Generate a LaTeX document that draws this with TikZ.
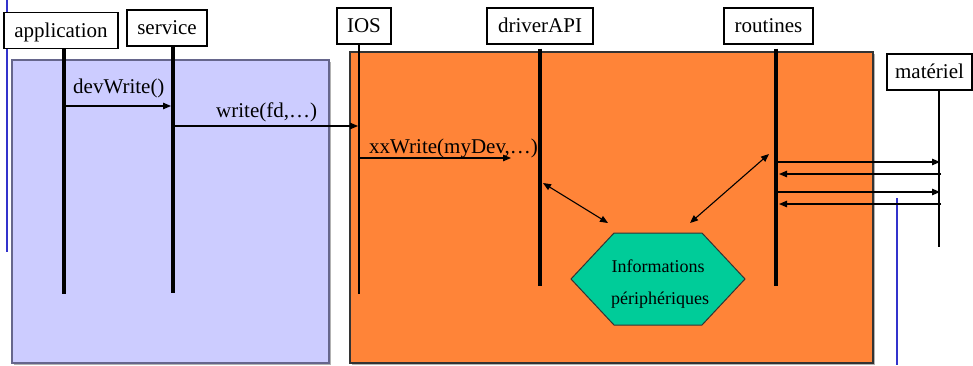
\documentclass[tikz,border=0pt]{standalone}
\usepackage{fontspec}
\setmainfont{Liberation Serif}
\usetikzlibrary{arrows.meta}
\definecolor{lavender}{HTML}{CCCCFF}
\definecolor{orangezone}{HTML}{FF8438}
\definecolor{tealfill}{HTML}{00CC99}
\definecolor{markblue}{HTML}{3333CC}
\begin{document}
\begin{tikzpicture}[x=1pt,y=-1pt,
  actor/.style={draw=black, line width=1.2pt, fill=white,
    font=\fontsize{21}{25}\selectfont, text height=17.5pt, text depth=4.5pt,
    inner ysep=7pt, inner xsep=0pt, align=center},
  msglabel/.style={font=\fontsize{21}{25}\selectfont, inner sep=0pt, anchor=base west},
  infolabel/.style={font=\fontsize{18}{22}\selectfont, inner sep=0pt, anchor=base},
  heavyline/.style={line width=4.5pt},
  lightline/.style={line width=2pt},
  msg/.style={line width=1.1pt, -{Triangle[length=8pt,width=6.5pt]}},
  twoway/.style={line width=1.1pt, {Triangle[length=8pt,width=6.5pt]}-{Triangle[length=8pt,width=6.5pt]}},
  marker/.style={draw=markblue, line width=2.2pt},
  zone/.style={line width=1.5pt}]

\useasboundingbox (0,0) rectangle (973,365);

% zones
\fill[gray!60] (14,62) rectangle (331,365);
\filldraw[zone, fill=lavender, draw=black!75!blue!60] (12,60) rectangle (329,363);
\fill[gray!60] (352,54) rectangle (875,365);
\filldraw[zone, fill=orangezone, draw=black!80] (350,52) rectangle (873,363);

% blue markers
\coordinate (blA) at (7,0);
\coordinate (blB) at (7,252);
\draw[marker] (blA) -- (blB);
\coordinate (brA) at (897,198);
\coordinate (brB) at (897,365);
\draw[marker] (brA) -- (brB);

% actor boxes
\node[actor, minimum width=114pt] (app) at (61,30.5) {application};
\node[actor, minimum width=80pt] (svc) at (167,28) {service};
\node[actor, minimum width=54pt] (ios) at (364,26) {IOS};
\node[actor, minimum width=106pt] (drv) at (540,26) {driverAPI};
\node[actor, minimum width=89pt] (rt) at (768.5,26) {routines};
\node[actor, minimum width=85pt] (mat) at (929.5,72) {matériel};

% lifelines
\coordinate (appEnd) at (64,294);
\coordinate (svcEnd) at (173,293);
\coordinate (iosEnd) at (359,294);
\coordinate (drvEnd) at (540,286);
\coordinate (rtEnd) at (776,286);
\coordinate (matEnd) at (939,247);
\draw[heavyline] (app.south -| appEnd) -- (appEnd);
\draw[heavyline] (svc.south -| svcEnd) -- (svcEnd);
\draw[lightline] (ios.south -| iosEnd) -- (iosEnd);
\draw[heavyline] ([yshift=-4pt]drv.south -| drvEnd) -- (drvEnd);
\draw[heavyline] ([yshift=-4pt]rt.south -| rtEnd) -- (rtEnd);
\draw[lightline] (mat.south -| matEnd) -- (matEnd);

% calls
\coordinate (c1a) at (66,106);   \coordinate (c1b) at (171,106);
\coordinate (c2a) at (175,126);  \coordinate (c2b) at (358,126);
\coordinate (c3a) at (360,158);  \coordinate (c3b) at (511,158);
\draw[msg] (c1a) -- (c1b);
\draw[msg] (c2a) -- (c2b);
\draw[msg] (c3a) -- (c3b);
\node[msglabel] (l1) at (73,93) {devWrite()};
\node[msglabel] (l2) at (216,117) {write(fd,…)};
\node[msglabel] (l3) at (369,153) {xxWrite(myDev,…)};

% exchanges with the hardware
\coordinate (h1a) at (778,162);  \coordinate (h1b) at (940,162);
\coordinate (h2a) at (941,174);  \coordinate (h2b) at (779,174);
\coordinate (h3a) at (778,192);  \coordinate (h3b) at (940,192);
\coordinate (h4a) at (941,204);  \coordinate (h4b) at (779,204);
\draw[msg] (h1a) -- (h1b);
\draw[msg] (h2a) -- (h2b);
\draw[msg] (h3a) -- (h3b);
\draw[msg] (h4a) -- (h4b);

% device information block
\coordinate (hxW) at (571,279);
\coordinate (hxNW) at (614,233);
\coordinate (hxNE) at (702,233);
\coordinate (hxE) at (745,279);
\coordinate (hxSE) at (702,325);
\coordinate (hxSW) at (614,325);
\filldraw[fill=tealfill, draw=black!80, line width=1pt]
  (hxW) -- (hxNW) -- (hxNE) -- (hxE) -- (hxSE) -- (hxSW) -- cycle;
\node[infolabel] (info1) at (658,272) {Informations};
\node[infolabel] (info2) at (660,304) {périphériques};

% accesses to the information block
\coordinate (d1a) at (543,183);  \coordinate (d1b) at (608,223);
\coordinate (d2a) at (769,154);  \coordinate (d2b) at (690,223);
\draw[twoway] (d1a) -- (d1b);
\draw[twoway] (d2a) -- (d2b);
\end{tikzpicture}
\end{document}
